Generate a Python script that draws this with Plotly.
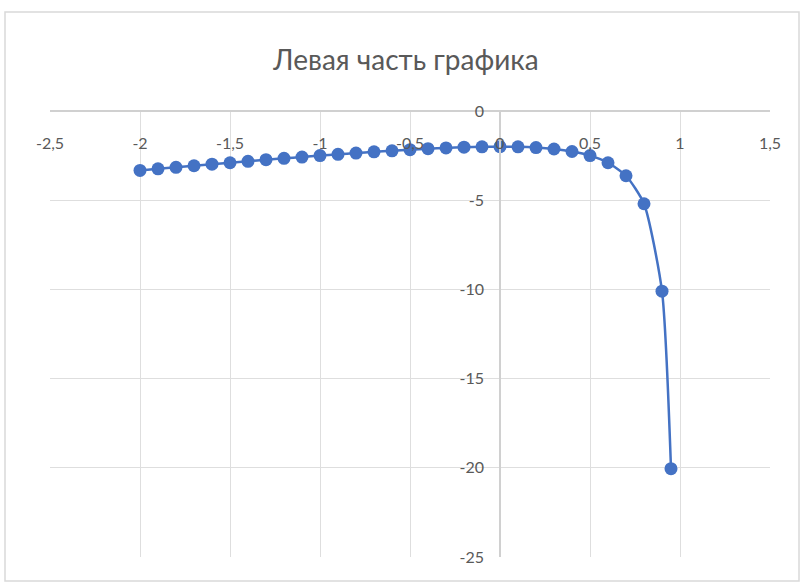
import plotly.graph_objects as go

x_vals = [-2.0, -1.9, -1.8, -1.7, -1.6, -1.5, -1.4, -1.3, -1.2, -1.1,
          -1.0, -0.9, -0.8, -0.7, -0.6, -0.5, -0.4, -0.3, -0.2, -0.1,
          0.0, 0.1, 0.2, 0.3, 0.4, 0.5, 0.6, 0.7, 0.8, 0.9, 0.95]
y_vals = [-3.33, -3.24, -3.16, -3.07, -2.98, -2.90, -2.82, -2.73, -2.65, -2.58,
          -2.50, -2.43, -2.36, -2.29, -2.23, -2.17, -2.11, -2.07, -2.03, -2.01,
          -2.00, -2.01, -2.05, -2.13, -2.27, -2.50, -2.90, -3.63, -5.20, -10.10, -20.05]
x_ticks = [-2.5, -2, -1.5, -1, -0.5, 0, 0.5, 1, 1.5]
x_tick_text = ["-2,5", "-2", "-1,5", "-1", "-0,5", "0", "0,5", "1", "1,5"]
y_ticks = [0, -5, -10, -15, -20, -25]
y_tick_text = ["0", "-5", "-10", "-15", "-20", "-25"]
title_text = "Левая часть графика"

W, H = 804, 582
ml, mr, mt, mb = 50, 34, 111, 25
pw, ph = W - ml - mr, H - mt - mb

fig = go.Figure()
fig.add_trace(go.Scatter(
    x=x_vals, y=y_vals, mode="lines+markers",
    line=dict(color="#4472C4", width=2.5, shape="spline", smoothing=0.6),
    marker=dict(color="#4472C4", size=13),
    showlegend=False, hoverinfo="x+y",
))

font_family = "Lato, 'Open Sans', sans-serif"
fig.update_layout(
    width=W, height=H,
    margin=dict(l=ml, r=mr, t=mt, b=mb, autoexpand=False),
    paper_bgcolor="white", plot_bgcolor="white",
    separators=", ",
    font=dict(family=font_family, color="#595959", size=16),
    title=dict(text=title_text, x=0.505, xanchor="center", y=1 - 60 / H, yanchor="middle",
               font=dict(size=28, color="#595959", family=font_family)),
    xaxis=dict(range=[-2.5, 1.5], tickvals=x_ticks, ticktext=x_tick_text,
               anchor="free", position=1, side="bottom", automargin=False,
               showgrid=True, gridcolor="#dedede", gridwidth=1,
               showline=True, linecolor="#d0d0d0", linewidth=1.5, zeroline=False,
               ticks="", ticklabelstandoff=18, tickfont=dict(size=16, color="#595959")),
    yaxis=dict(range=[-25, 0], tickvals=y_ticks, ticktext=y_tick_text,
               anchor="free", position=0.625, side="left", automargin=False,
               showgrid=True, gridcolor="#dedede", gridwidth=1,
               showline=True, linecolor="#d0d0d0", linewidth=1.5, zeroline=False,
               ticks="", ticklabelstandoff=12, tickfont=dict(size=16, color="#595959")),
    shapes=[dict(type="rect", xref="paper", yref="paper",
                 x0=(5 - ml) / pw, x1=(799 - ml) / pw,
                 y0=(H - mb - 581) / ph, y1=(H - mb - 12) / ph,
                 line=dict(color="#d9d9d9", width=1.5), layer="below")],
)

fig.write_html("out.html", config={"displayModeBar": False},
               post_script="document.body.style.margin='0';")
